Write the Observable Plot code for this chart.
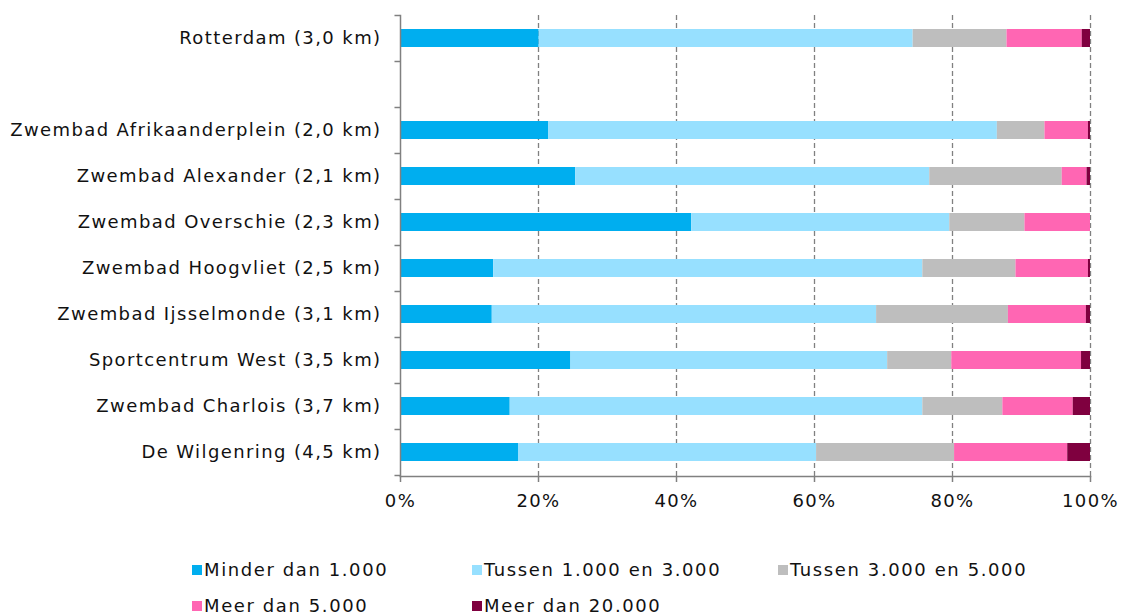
<!DOCTYPE html>
<html>
<head>
<meta charset="utf-8">
<script src="https://cdn.jsdelivr.net/npm/d3@7"></script>
<script src="https://cdn.jsdelivr.net/npm/@observablehq/plot@0.6"></script>
<style>
  body { margin: 0; background: #fff; font-family: "DejaVu Sans", sans-serif; }
  #chart { position: relative; width: 1121px; height: 615px; }
  .legend { position: absolute; left: 0; top: 0; width: 1121px; height: 615px; pointer-events: none; }
  .item { position: absolute; display: flex; align-items: center; font-size: 18px; letter-spacing: 1.6px; color: #111; white-space: nowrap; }
  .sw { width: 10px; height: 10px; margin-right: 2px; }
  svg text { letter-spacing: 1.4px; }
</style>
</head>
<body>
<div id="chart"></div>
<script>
const categories = [
  "Rotterdam (3,0 km)",
  " ",
  "Zwembad Afrikaanderplein (2,0 km)",
  "Zwembad Alexander (2,1 km)",
  "Zwembad Overschie (2,3 km)",
  "Zwembad Hoogvliet (2,5 km)",
  "Zwembad Ijsselmonde (3,1 km)",
  "Sportcentrum West (3,5 km)",
  "Zwembad Charlois (3,7 km)",
  "De Wilgenring (4,5 km)"
];
const series = ["Minder dan 1.000", "Tussen 1.000 en 3.000", "Tussen 3.000 en 5.000", "Meer dan 5.000", "Meer dan 20.000"];
const colors = ["#00AEEF", "#97E0FF", "#BEBEBE", "#FF66B3", "#7F003F"];
// percentages per category (same order as categories; gap row is null)
const minder1000   = [20.1, null, 21.5, 25.4, 42.2, 13.5, 13.3, 24.7, 15.9, 17.1];
const tussen1000   = [54.2, null, 65.0, 51.3, 37.4, 62.2, 55.7, 45.9, 59.8, 43.2];
const tussen3000   = [13.6, null,  6.9, 19.2, 10.9, 13.5, 19.1,  9.3, 11.6, 20.0];
const meer5000     = [10.9, null,  6.3,  3.6,  9.5, 10.5, 11.3, 18.8, 10.2, 16.4];
const meer20000    = [ 1.2, null,  0.3,  0.5,  0.0,  0.3,  0.6,  1.3,  2.5,  3.3];
const xTicks = [0, 0.2, 0.4, 0.6, 0.8, 1];

const valueArrays = [minder1000, tussen1000, tussen3000, meer5000, meer20000];
const rows = [];
categories.forEach((c, i) => {
  valueArrays.forEach((arr, s) => {
    if (arr[i] != null) rows.push({category: c, series: series[s], value: arr[i]});
  });
});

const gray = "#808080";
const pct = d3.format(".0%");
const plot = Plot.plot({
  width: 1121,
  height: 530,
  marginTop: 15,
  marginBottom: 54,
  marginLeft: 400,
  marginRight: 31,
  style: {fontFamily: "DejaVu Sans, sans-serif", fontSize: "18px", color: "#111", background: "#fff", overflow: "visible"},
  x: {domain: [0, 1], ticks: xTicks, tickFormat: pct, label: null},
  y: {domain: categories, paddingInner: 0.6, paddingOuter: 0.3, label: null},
  color: {domain: series, range: colors},
  marks: [
    Plot.gridX(xTicks.slice(1), {stroke: gray, strokeOpacity: 1, strokeWidth: 1.3, strokeDasharray: "5,3"}),
    Plot.barX(rows, Plot.stackX({
      x: "value", y: "category", fill: "series",
      offset: "normalize", order: series
    })),
    Plot.frame({anchor: "left", stroke: gray, strokeWidth: 1.5}),
    Plot.frame({anchor: "bottom", stroke: gray, strokeWidth: 1.5}),
    Plot.ruleY(categories, {y: d => d, x1: -0.008, x2: 0, dy: -23, stroke: gray, strokeWidth: 1.5}),
    Plot.ruleY([categories[categories.length - 1]], {y: d => d, x1: -0.008, x2: 0, dy: 23, stroke: gray, strokeWidth: 1.5}),
    Plot.axisX(xTicks, {tickSize: 6, tickPadding: 12, tickFormat: pct, stroke: gray, strokeWidth: 1.5, fill: "#111", fontSize: 18}),
    Plot.axisY({tickSize: 0, tickPadding: 19, fill: "#111", fontSize: 18})
  ]
});

const chart = document.getElementById("chart");
chart.appendChild(plot);

const legend = document.createElement("div");
legend.className = "legend";
const legendPos = [[192, 569], [472, 569], [778, 569], [192, 605], [472, 605]];
series.forEach((s, i) => {
  const it = document.createElement("div");
  it.className = "item";
  it.style.left = legendPos[i][0] + "px";
  it.style.top = (legendPos[i][1] - 10) + "px";
  const sw = document.createElement("span");
  sw.className = "sw";
  sw.style.background = colors[i];
  it.appendChild(sw);
  const t = document.createElement("span");
  t.textContent = s;
  it.appendChild(t);
  legend.appendChild(it);
});
chart.appendChild(legend);
</script>
</body>
</html>
